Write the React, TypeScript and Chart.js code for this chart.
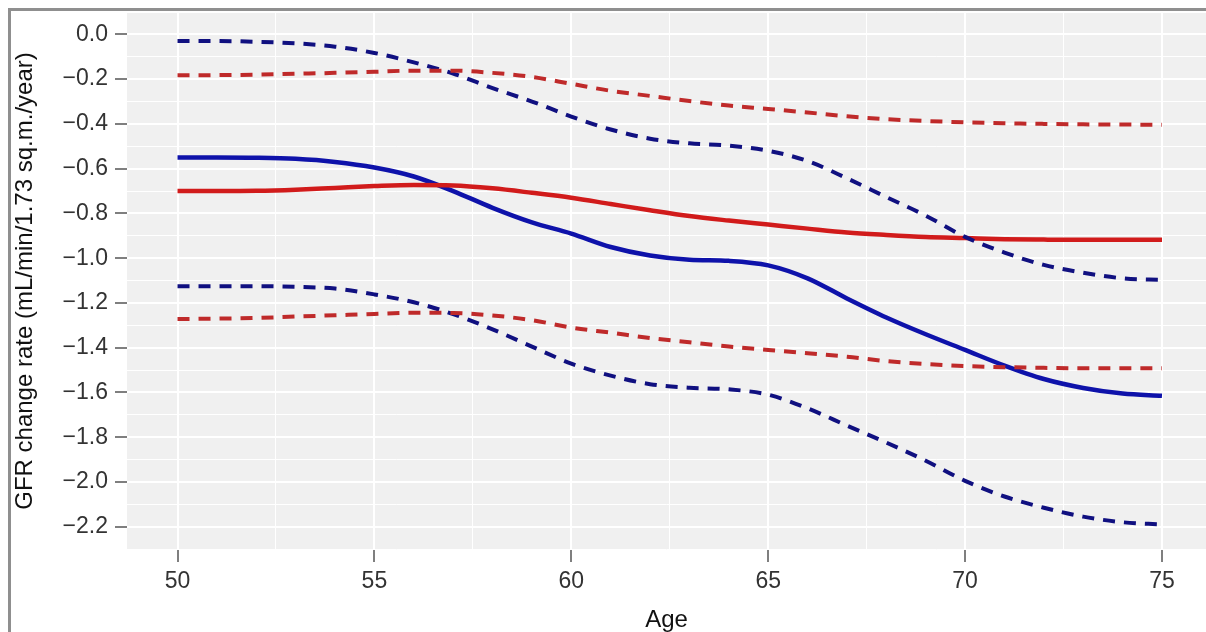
import React, { useEffect, useRef } from 'react';
import { Chart, registerables } from 'chart.js';

Chart.register(...registerables);

// ---- data ----
const ages = [50, 51, 52, 53, 54, 55, 56, 57, 58, 59, 60, 61, 62, 63, 64, 65, 66, 67, 68, 69, 70, 71, 72, 73, 74, 75];

const blueMean = [-0.55, -0.55, -0.551, -0.556, -0.57, -0.595, -0.635, -0.7, -0.775, -0.84, -0.89, -0.95, -0.988, -1.007, -1.012, -1.032, -1.09, -1.18, -1.265, -1.34, -1.41, -1.48, -1.54, -1.58, -1.605, -1.615];
const blueUpper = [-0.03, -0.03, -0.033, -0.04, -0.055, -0.083, -0.125, -0.175, -0.24, -0.3, -0.367, -0.425, -0.466, -0.487, -0.497, -0.52, -0.566, -0.643, -0.727, -0.81, -0.905, -0.975, -1.03, -1.065, -1.09, -1.097];
const blueLower = [-1.125, -1.125, -1.125, -1.128, -1.136, -1.162, -1.197, -1.25, -1.318, -1.395, -1.471, -1.525, -1.563, -1.579, -1.586, -1.61, -1.671, -1.748, -1.824, -1.905, -1.995, -2.065, -2.115, -2.155, -2.18, -2.19];

const redMean = [-0.7, -0.7, -0.699, -0.694, -0.686, -0.678, -0.673, -0.675, -0.688, -0.708, -0.73, -0.758, -0.786, -0.812, -0.832, -0.85, -0.868, -0.885, -0.896, -0.905, -0.91, -0.915, -0.917, -0.918, -0.918, -0.918];
const redUpper = [-0.183, -0.182, -0.18, -0.176, -0.172, -0.167, -0.162, -0.162, -0.172, -0.19, -0.221, -0.252, -0.275, -0.298, -0.318, -0.333, -0.349, -0.366, -0.379, -0.387, -0.393, -0.397, -0.4, -0.402, -0.403, -0.404];
const redLower = [-1.272, -1.27, -1.267, -1.261, -1.255, -1.249, -1.244, -1.245, -1.256, -1.277, -1.31, -1.333, -1.357, -1.376, -1.395, -1.41, -1.425, -1.44, -1.46, -1.473, -1.482, -1.487, -1.49, -1.492, -1.492, -1.492];

const xMajorTicks = [50, 55, 60, 65, 70, 75];
const xTickLabels = ['50', '55', '60', '65', '70', '75'];
const xMinorTicks = [52.5, 57.5, 62.5, 67.5, 72.5];

const yMajorTicks = [0, -0.2, -0.4, -0.6, -0.8, -1.0, -1.2, -1.4, -1.6, -1.8, -2.0, -2.2];
const yTickLabels = ['0.0', '\u22120.2', '\u22120.4', '\u22120.6', '\u22120.8', '\u22121.0', '\u22121.2', '\u22121.4', '\u22121.6', '\u22121.8', '\u22122.0', '\u22122.2'];
const yMinorTicks = [0.1, -0.1, -0.3, -0.5, -0.7, -0.9, -1.1, -1.3, -1.5, -1.7, -1.9, -2.1, -2.3];

const xTitle = 'Age';
const yTitle = 'GFR change rate (mL/min/1.73 sq.m./year)';

const W = 1206;
const H = 632;
const FONT = '"Liberation Sans", Arial, Helvetica, sans-serif';

const findIdx = (arr: number[], v: number) => arr.findIndex((t) => Math.abs(t - v) < 1e-6);

export default function App() {
  const ref = useRef<HTMLCanvasElement | null>(null);

  useEffect(() => {
    const canvas = ref.current;
    if (!canvas) return;

    const pts = (arr: number[]) => ages.map((a, i) => ({ x: a, y: arr[i] }));
    const line = (label: string, data: number[], color: string, dashed: boolean) => ({
      label,
      data: pts(data),
      borderColor: color,
      backgroundColor: color,
      borderWidth: dashed ? 4 : 4.5,
      borderDash: dashed ? [12, 9] : [],
      borderCapStyle: 'butt' as const,
      borderJoinStyle: 'round' as const,
      pointRadius: 0,
      pointHoverRadius: 0,
      fill: false,
      cubicInterpolationMode: 'monotone' as const,
    });

    const panelPlugin = {
      id: 'panelBg',
      beforeDraw(chart: any) {
        const { ctx, chartArea: a } = chart;
        ctx.save();
        ctx.fillStyle = '#ffffff';
        ctx.fillRect(0, 0, chart.width, chart.height);
        ctx.fillStyle = '#8f8f8f';
        ctx.fillRect(8, 8, chart.width - 8, 3);
        ctx.fillRect(8, 8, 3, chart.height - 8);
        ctx.fillStyle = '#f0f0f0';
        ctx.fillRect(a.left, a.top, a.right - a.left, a.bottom - a.top);
        ctx.restore();
      },
    };

    const chart = new Chart(canvas, {
      type: 'line',
      data: {
        datasets: [
          line('Red upper', redUpper, '#bf2a2a', true),
          line('Red lower', redLower, '#bf2a2a', true),
          line('Blue upper', blueUpper, '#101080', true),
          line('Blue lower', blueLower, '#101080', true),
          line('Red mean', redMean, '#d11b1b', false),
          line('Blue mean', blueMean, '#0e12aa', false),
        ] as any,
      },
      options: {
        animation: false,
        responsive: false,
        devicePixelRatio: 1,
        events: [],
        layout: { padding: { top: 12, left: 0, right: 0, bottom: 0 } },
        plugins: { legend: { display: false }, tooltip: { enabled: false } },
        scales: {
          x: {
            type: 'linear',
            min: 48.717,
            max: 76.118,
            afterBuildTicks: (s: any) => {
              s.ticks = [...xMajorTicks, ...xMinorTicks].sort((a, b) => a - b).map((v) => ({ value: v }));
            },
            afterFit: (s: any) => {
              s.height = 82;
              s.paddingLeft = 0;
              s.paddingRight = 0;
            },
            ticks: {
              autoSkip: false,
              maxRotation: 0,
              minRotation: 0,
              padding: 6,
              color: '#333333',
              font: { family: FONT, size: 23 },
              callback: (v: any) => {
                const i = findIdx(xMajorTicks, Number(v));
                return i >= 0 ? xTickLabels[i] : '';
              },
            },
            grid: {
              color: '#ffffff',
              lineWidth: (c: any) => (findIdx(xMajorTicks, c.tick?.value) >= 0 ? 2 : 1),
              drawTicks: true,
              tickLength: 12,
              tickWidth: 1.5,
              tickColor: (c: any) => (findIdx(xMajorTicks, c.tick?.value) >= 0 ? '#555555' : 'rgba(0,0,0,0)'),
            },
            border: { display: false },
            title: {
              display: true,
              text: xTitle,
              color: '#111111',
              font: { family: FONT, size: 24, lineHeight: 1 },
              padding: { top: 0, bottom: 0 },
            },
          },
          y: {
            type: 'linear',
            min: -2.304,
            max: 0.1,
            afterBuildTicks: (s: any) => {
              s.ticks = [...yMajorTicks, ...yMinorTicks].sort((a, b) => a - b).map((v) => ({ value: v }));
            },
            afterFit: (s: any) => {
              s.width = 127;
              s.paddingTop = 0;
              s.paddingBottom = 0;
            },
            ticks: {
              autoSkip: false,
              padding: 7,
              color: '#333333',
              font: { family: FONT, size: 23 },
              callback: (v: any) => {
                const i = findIdx(yMajorTicks, Number(v));
                return i >= 0 ? yTickLabels[i] : '';
              },
            },
            grid: {
              color: '#ffffff',
              lineWidth: (c: any) => (findIdx(yMajorTicks, c.tick?.value) >= 0 ? 2 : 1),
              drawTicks: true,
              tickLength: 12,
              tickWidth: 1.5,
              tickColor: (c: any) => (findIdx(yMajorTicks, c.tick?.value) >= 0 ? '#555555' : 'rgba(0,0,0,0)'),
            },
            border: { display: false },
            title: {
              display: true,
              text: yTitle,
              color: '#111111',
              font: { family: FONT, size: 24, lineHeight: 1 },
              padding: { top: 13, bottom: 0 },
            },
          },
        },
      } as any,
      plugins: [panelPlugin],
    });

    return () => {
      chart.destroy();
    };
  }, []);

  return (
    <div style={{ position: 'absolute', left: 0, top: 0, width: W, height: H, background: '#fff' }}>
      <canvas ref={ref} width={W} height={H} style={{ display: 'block', width: W, height: H }} />
    </div>
  );
}
